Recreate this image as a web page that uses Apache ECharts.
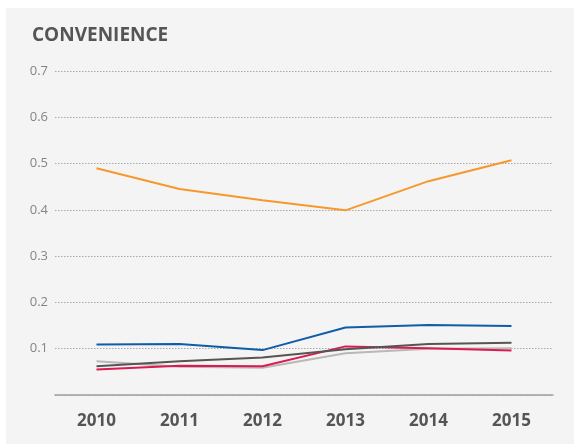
<!DOCTYPE html>
<html>
<head>
<meta charset="utf-8">
<style>
  html, body { margin: 0; padding: 0; background: #ffffff; }
  #chart { width: 574px; height: 444px; }
</style>
<script src="https://cdn.jsdelivr.net/npm/echarts@6/dist/echarts.min.js"></script>
</head>
<body>
<div id="chart"></div>
<script>
// Years on the horizontal axis
const years = ['2010', '2011', '2012', '2013', '2014', '2015'];

// Convenience scores per series
const orangeSeries = [0.490, 0.445, 0.421, 0.399, 0.462, 0.507];
const blueSeries   = [0.109, 0.110, 0.097, 0.146, 0.151, 0.149];
const darkSeries   = [0.062, 0.073, 0.081, 0.099, 0.110, 0.113];
const redSeries    = [0.055, 0.063, 0.062, 0.105, 0.101, 0.096];
const lightSeries  = [0.073, 0.061, 0.059, 0.090, 0.100, 0.101];

// Value axis ticks
const yMin = 0, yMax = 0.7, yStep = 0.1;

const chart = echarts.init(document.getElementById('chart'), null, { renderer: 'canvas' });

function line(name, data, color) {
  return {
    name, type: 'line', data,
    symbol: 'none', smooth: false,
    lineStyle: { color, width: 2 },
    z: 3
  };
}

chart.setOption({
  backgroundColor: '#ffffff',
  animation: false,
  graphic: [{
    type: 'rect', z: -10, silent: true,
    shape: { x: 6, y: 8, width: 568, height: 436 },
    style: { fill: '#f4f4f4' }
  }],
  title: {
    text: 'CONVENIENCE',
    left: 27, top: 21,
    textStyle: { fontFamily: 'Open Sans', fontWeight: 'bold', fontSize: 19, color: '#555555' }
  },
  grid: { left: 55, right: 21, top: 71, bottom: 49 },
  xAxis: {
    type: 'category',
    data: years,
    boundaryGap: true,
    axisLine: { show: true, lineStyle: { color: '#a0a0a0', width: 1.5 } },
    axisTick: { show: false },
    axisLabel: {
      margin: 18,
      fontFamily: 'Open Sans', fontWeight: 'bold', fontSize: 17, color: '#555555'
    },
    splitLine: { show: false }
  },
  yAxis: {
    type: 'value',
    min: yMin, max: yMax, interval: yStep,
    axisLine: { show: false },
    axisTick: { show: false },
    axisLabel: {
      margin: 7,
      fontFamily: 'Open Sans', fontSize: 13, color: '#858585',
      formatter: v => (v === 0 ? '' : v.toFixed(1))
    },
    splitLine: { show: true, lineStyle: { color: '#a8a8a8', type: [1.5, 1.5], width: 1 } }
  },
  series: [
    line('light', lightSeries, '#b8b8b8'),
    line('red', redSeries, '#dc1a52'),
    line('dark', darkSeries, '#555555'),
    line('blue', blueSeries, '#0f5ca8'),
    line('orange', orangeSeries, '#f6982a')
  ]
});
</script>
</body>
</html>
